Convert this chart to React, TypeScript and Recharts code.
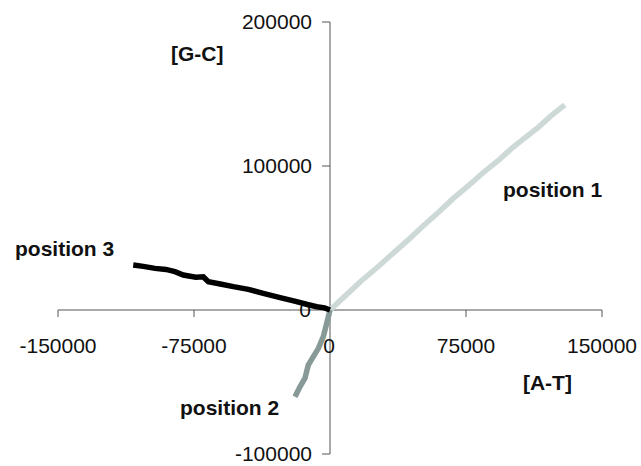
import { ScatterChart, Scatter, XAxis, YAxis, ReferenceLine, ReferenceDot } from 'recharts';

// cumulative skew walks: [A-T] on x, [G-C] on y
const position1 = [
  { x: 0, y: 0 },
  { x: 9000, y: 10500 },
  { x: 17000, y: 20000 },
  { x: 26000, y: 29500 },
  { x: 34000, y: 38500 },
  { x: 43000, y: 48500 },
  { x: 51000, y: 58000 },
  { x: 60000, y: 68000 },
  { x: 68000, y: 77500 },
  { x: 77000, y: 87000 },
  { x: 85000, y: 96000 },
  { x: 93000, y: 104000 },
  { x: 100000, y: 112000 },
  { x: 108000, y: 120000 },
  { x: 115000, y: 127000 },
  { x: 122000, y: 135000 },
  { x: 129500, y: 142500 },
];

const position2 = [
  { x: 0, y: 0 },
  { x: -1800, y: -9200 },
  { x: -3700, y: -18500 },
  { x: -6400, y: -26600 },
  { x: -9200, y: -32400 },
  { x: -12000, y: -38200 },
  { x: -13800, y: -47400 },
  { x: -16500, y: -53200 },
  { x: -19300, y: -60200 },
];

const position3 = [
  { x: 0, y: 0 },
  { x: -3000, y: 1500 },
  { x: -7300, y: 2300 },
  { x: -12500, y: 3800 },
  { x: -18400, y: 5800 },
  { x: -27500, y: 8600 },
  { x: -36800, y: 11600 },
  { x: -45000, y: 14300 },
  { x: -53300, y: 16200 },
  { x: -60500, y: 18100 },
  { x: -67100, y: 19600 },
  { x: -69900, y: 23100 },
  { x: -74000, y: 22800 },
  { x: -80900, y: 24300 },
  { x: -85500, y: 26600 },
  { x: -90500, y: 28200 },
  { x: -96500, y: 28900 },
  { x: -103000, y: 30300 },
  { x: -108500, y: 31200 },
];

const xTicks = [-150000, -75000, 75000, 150000];
const yTicks = [200000, 100000, -100000];
const xTickLabels = ['-150000', '-75000', '75000', '150000'];
const yTickLabels = ['200000', '100000', '-100000'];

const annotations = [
  { x: -87700, y: 177000, text: '[G-C]' },
  { x: 106400, y: -51400, text: '[A-T]' },
  { x: 95400, y: 82600, text: 'position 1' },
  { x: -82700, y: -69400, text: 'position 2' },
  { x: -173700, y: 41600, text: 'position 3' },
];

const font = '"Liberation Sans", Arial, sans-serif';
const axisColor = '#555';

const noDot = () => <g />;

export default function App() {
  // absolutely placed so the page never scrolls
  return (
    <div style={{ position: 'absolute', left: 0, top: 0, width: 641, height: 466, background: '#fff' }}>
      <ScatterChart width={641} height={466} margin={{ top: 22, right: 39, bottom: 12, left: 58 }}>
        <XAxis type="number" dataKey="x" domain={[-150000, 150000]} hide />
        <YAxis type="number" dataKey="y" domain={[-100000, 200000]} hide />
        <ReferenceLine y={0} stroke={axisColor} strokeWidth={1} />
        <ReferenceLine x={0} stroke={axisColor} strokeWidth={1} />
        {xTicks.map((t, i) => (
          <ReferenceDot key={'xt' + t} x={t} y={0} r={0} ifOverflow="visible"
            shape={(p: any) => (
              <g>
                <line x1={p.cx} y1={p.cy} x2={p.cx} y2={p.cy + 7} stroke={axisColor} />
                <text x={p.cx} y={p.cy + 37} textAnchor="middle" dominantBaseline="middle" fontFamily={font} fontSize={21} fill="#111">{xTickLabels[i]}</text>
              </g>
            )} />
        ))}
        <ReferenceDot x={0} y={0} r={0} ifOverflow="visible"
          shape={(p: any) => (
            <g>
              <text x={p.cx - 1} y={p.cy + 37} textAnchor="middle" dominantBaseline="middle" fontFamily={font} fontSize={21} fill="#111">0</text>
              <text x={p.cx - 19} y={p.cy + 1} textAnchor="end" dominantBaseline="middle" fontFamily={font} fontSize={21} fill="#111">0</text>
            </g>
          )} />
        {yTicks.map((t, i) => (
          <ReferenceDot key={'yt' + t} x={0} y={t} r={0} ifOverflow="visible"
            shape={(p: any) => (
              <g>
                <line x1={p.cx - 8} y1={p.cy} x2={p.cx} y2={p.cy} stroke={axisColor} />
                <text x={p.cx - 18} y={p.cy + 1} textAnchor="end" dominantBaseline="middle" fontFamily={font} fontSize={21} fill="#111">{yTickLabels[i]}</text>
              </g>
            )} />
        ))}
        <Scatter data={position1} line={{ stroke: '#cdd9d7', strokeWidth: 5.5 }} shape={noDot} isAnimationActive={false} />
        <Scatter data={position2} line={{ stroke: '#879a98', strokeWidth: 5.5 }} shape={noDot} isAnimationActive={false} />
        <Scatter data={position3} line={{ stroke: '#000', strokeWidth: 5.5 }} shape={noDot} isAnimationActive={false} />
        {annotations.map((a) => (
          <ReferenceDot key={a.text} x={a.x} y={a.y} r={0} ifOverflow="visible"
            shape={(p: any) => (
              <text x={p.cx} y={p.cy} dominantBaseline="middle" fontFamily={font} fontSize={21} fontWeight="bold" fill="#111">{a.text}</text>
            )} />
        ))}
      </ScatterChart>
    </div>
  );
}
